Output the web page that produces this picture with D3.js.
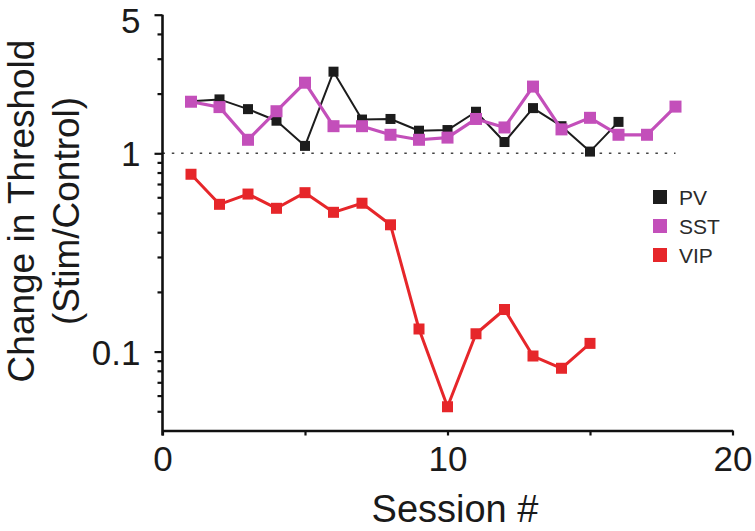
<!DOCTYPE html>
<html>
<head>
<meta charset="utf-8">
<script src="https://cdn.jsdelivr.net/npm/d3@7"></script>
<style>
  html, body { margin: 0; padding: 0; background: #fff; }
  svg { display: block; }
  text { font-family: "Liberation Sans", Arial, Helvetica, sans-serif; }
</style>
</head>
<body>
<svg id="chart" width="755" height="531"></svg>
<script>
// ---- data ----
const pvSessions  = [1,2,3,4,5,6,7,8,9,10,11,12,13,14,15,16];
const pvValues    = [1.83,1.87,1.67,1.46,1.09,2.58,1.48,1.49,1.30,1.31,1.62,1.14,1.69,1.37,1.02,1.44];
const sstSessions = [1,2,3,4,5,6,7,8,9,10,11,12,13,14,15,16,17,18];
const sstValues   = [1.82,1.71,1.17,1.63,2.27,1.37,1.37,1.24,1.17,1.20,1.49,1.35,2.17,1.32,1.51,1.24,1.24,1.72];
const vipSessions = [1,2,3,4,5,6,7,8,9,10,11,12,13,14,15];
const vipValues   = [0.784,0.553,0.623,0.528,0.633,0.504,0.560,0.436,0.130,0.0527,0.123,0.163,0.095,0.0824,0.110];
const seriesNames = ["PV","SST","VIP"];
const seriesColors = ["#1c1c1c","#c34fba","#e6262a"];
const xTickValues = [0,5,10,15,20];
const xTickLabels = ["0","","10","","20"];
const yMajorTicks = [5,1,0.1];
const yMinorTicks = [4,3,2,0.9,0.8,0.7,0.6,0.5,0.4,0.3,0.2,0.09,0.08,0.07,0.06,0.05];
const refValue = 1;
const refRange = [0,18];

// ---- layout ----
const svg = d3.select("#chart");
const x = d3.scaleLinear().domain([0,20]).range([162.5,732.5]);
const y = d3.scaleLog().domain([0.04,5]).range([430.5,14.7]);
const font = '"Liberation Sans", Arial, Helvetica, sans-serif';

// reference dotted line
svg.append("line")
  .attr("x1", x(refRange[0])).attr("x2", x(refRange[1]))
  .attr("y1", y(refValue)).attr("y2", y(refValue))
  .attr("stroke", "#444").attr("stroke-width", 1.6)
  .attr("stroke-dasharray", "2.5,6.8");

// x axis
const xAxis = d3.axisBottom(x).tickValues(xTickValues)
  .tickFormat((d,i) => xTickLabels[i]).tickSize(5).tickPadding(10).tickSizeOuter(0);
const gx = svg.append("g").attr("transform", `translate(0,${y(0.04)})`).call(xAxis);
gx.select(".domain").attr("stroke", "#111").attr("stroke-width", 2.6);
gx.selectAll(".tick line").attr("stroke", "#111").attr("stroke-width", 2.2);
gx.selectAll(".tick text").attr("font-size", 35).attr("fill", "#1a1a1a")
  .attr("font-family", font).attr("dy", "0.72em");

// y axis major
const yAxis = d3.axisLeft(y).tickValues(yMajorTicks)
  .tickFormat(d => String(d)).tickSize(8).tickPadding(14).tickSizeOuter(0);
const gy = svg.append("g").attr("transform", `translate(${x(0)},0)`).call(yAxis);
gy.select(".domain").attr("stroke", "#111").attr("stroke-width", 2.6)
  .attr("d", `M0,${y(0.04)+5}V${y(5)}`);
gy.selectAll(".tick line").attr("stroke", "#111").attr("stroke-width", 2.2);
gy.selectAll(".tick text").attr("font-size", 35).attr("fill", "#1a1a1a")
  .attr("font-family", font).attr("dy", d => d === 5 ? "0.5em" : "0.36em");

// y axis minor
const yMinor = d3.axisLeft(y).tickValues(yMinorTicks).tickFormat("").tickSize(5).tickSizeOuter(0);
const gym = svg.append("g").attr("transform", `translate(${x(0)},0)`).call(yMinor);
gym.select(".domain").remove();
gym.selectAll(".tick line").attr("stroke", "#111").attr("stroke-width", 2.2);

// axis titles
svg.append("text").attr("x", 455).attr("y", 522).attr("text-anchor", "middle")
  .attr("font-size", 38).attr("fill", "#1a1a1a").text("Session #");
const yt = svg.append("text").attr("transform", "translate(34,211) rotate(-90)")
  .attr("text-anchor", "middle").attr("font-size", 37).attr("fill", "#1a1a1a");
yt.append("tspan").attr("x", 0).attr("y", 0).text("Change in Threshold");
yt.append("tspan").attr("x", 0).attr("y", 45).text("(Stim/Control)");

// series
const series = [
  {name: seriesNames[0], xs: pvSessions,  vs: pvValues,  color: seriesColors[0], lw: 2,   ms: 10},
  {name: seriesNames[1], xs: sstSessions, vs: sstValues, color: seriesColors[1], lw: 3.2, ms: 12},
  {name: seriesNames[2], xs: vipSessions, vs: vipValues, color: seriesColors[2], lw: 3,   ms: 11}
];
const line = d3.line().x(d => x(d[0])).y(d => y(d[1]));
series.forEach(s => {
  const pts = s.xs.map((xv,i) => [xv, s.vs[i]]);
  const g = svg.append("g");
  g.append("path").attr("d", line(pts)).attr("fill", "none")
    .attr("stroke", s.color).attr("stroke-width", s.lw).attr("stroke-linejoin", "round");
  g.selectAll("rect").data(pts).join("rect")
    .attr("x", d => x(d[0]) - s.ms/2).attr("y", d => y(d[1]) - s.ms/2)
    .attr("width", s.ms).attr("height", s.ms).attr("fill", s.color);
});

// legend
const legend = svg.append("g").attr("transform", "translate(653,197)");
seriesNames.forEach((n,i) => {
  const row = legend.append("g").attr("transform", `translate(0,${i*29})`);
  row.append("rect").attr("x", 0).attr("y", -7).attr("width", 14).attr("height", 14)
    .attr("fill", seriesColors[i]);
  row.append("text").attr("x", 26).attr("y", 0).attr("dy", "0.36em")
    .attr("font-size", 21).attr("fill", "#2a2a2a").text(n);
});
</script>
</body>
</html>
